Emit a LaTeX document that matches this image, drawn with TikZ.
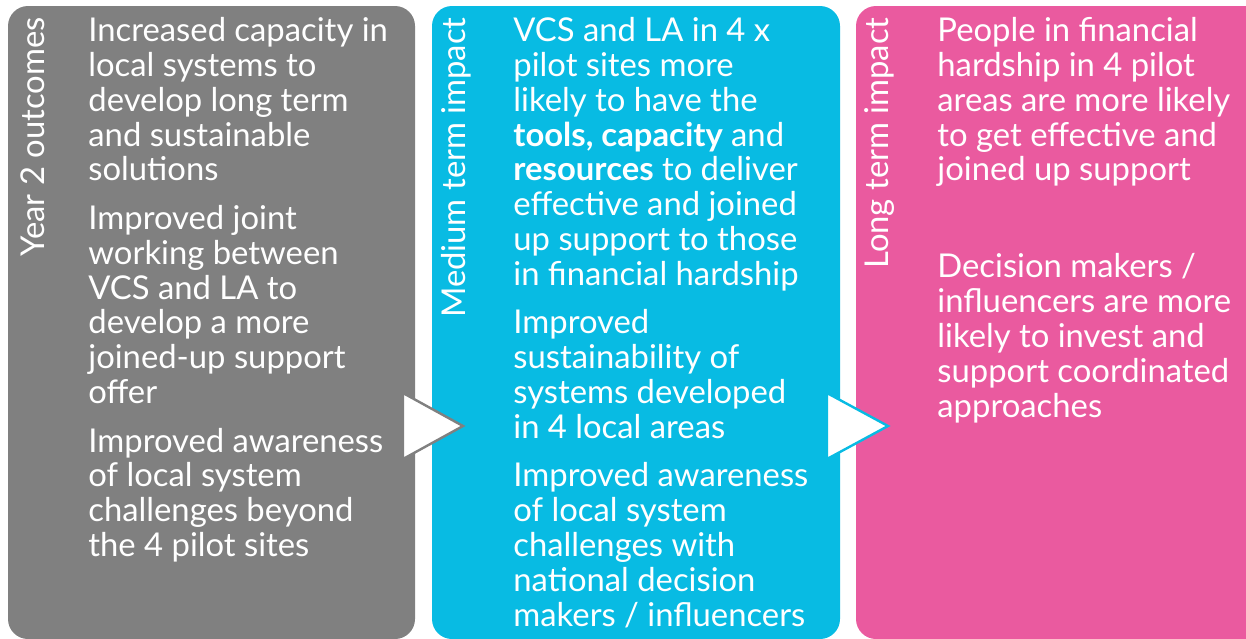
\documentclass[tikz,border=0pt]{standalone}
\usepackage{fontspec}
\setmainfont{Lato}
\usetikzlibrary{positioning,calc}
\definecolor{outcomegrey}{RGB}{128,128,128}
\definecolor{mediumcyan}{RGB}{8,187,227}
\definecolor{longpink}{RGB}{234,90,159}
\newcommand{\stagefont}{\fontsize{16.4}{17.42}\selectfont}
\tikzset{
  stage box/.style={
    rounded corners=10pt,
  },
  stage title/.style={
    rotate=90,
    anchor=east,
    inner sep=0pt,
    text=white,
    font=\stagefont,
  },
  stage text/.style={
    anchor=north west,
    inner sep=0pt,
    align=left,
    text=white,
    font=\stagefont,
  },
  stage arrow/.style={
    fill=white,
    line width=1.2pt,
    line join=miter,
  },
}

\begin{document}
\begin{tikzpicture}[x=0.5pt,y=-0.5pt]
  \useasboundingbox (0,0) rectangle (1246,638);
  % the three stages
  \fill[stage box, fill=outcomegrey] (8,6) rectangle (415,639);
  \fill[stage box, fill=mediumcyan] (432,6) rectangle (840,639);
  \fill[stage box, fill=longpink] (856,6) rectangle (1280,639);

  \node[stage title] (y2) at (33,17) {Year 2 outcomes};
  \node[stage title] (mt) at (456,17) {Medium term impact};
  \node[stage title] (lt) at (880,17) {Long term impact};

  \node[stage text] (y2txt) at (88,17)
    {Increased capacity in\\ local systems to\\ develop long term\\ and sustainable\\ solutions\\[6.8pt]
     Improved joint\\ working between\\ VCS and LA to\\ develop a more\\ joined-up support\\ offer\\[6.8pt]
     Improved awareness\\ of local system\\ challenges beyond\\ the 4 pilot sites};
  \node[stage text] (mttxt) at (513,17)
    {VCS and LA in 4 x\\ pilot sites more\\ likely to have the\\ \textbf{tools, capacity} and\\ \textbf{resources} to deliver\\ effective and joined\\ up support to those\\ in financial hardship\\[6.8pt]
     Improved\\ sustainability of\\ systems developed\\ in 4 local areas\\[6.8pt]
     Improved awareness\\ of local system\\ challenges with\\ national decision\\ makers / influencers};
  \node[stage text] (lttxt) at (937,17)
    {People in financial\\ hardship in 4 pilot\\ areas are more likely\\ to get effective and\\ joined up support\\[31pt]
     Decision makers /\\ influencers are more\\ likely to invest and\\ support coordinated\\ approaches};

  % arrows between stages
  \draw[stage arrow, draw=outcomegrey] (403,393) -- (403,459) -- (463,426) -- cycle;
  \draw[stage arrow, draw=mediumcyan] (827,393) -- (827,459) -- (888,426) -- cycle;
\end{tikzpicture}
\end{document}
